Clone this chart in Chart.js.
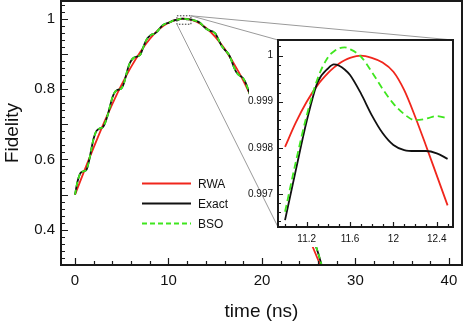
<!DOCTYPE html>
<html>
<head>
<meta charset="utf-8">
<script src="https://cdn.jsdelivr.net/npm/chart.js@4/dist/chart.umd.min.js"></script>
<style>
    html, body { margin: 0; padding: 0; background: #fff; }
    #wrap { position: relative; width: 463px; height: 326px; }
    #wrap canvas { position: absolute; left: 0; top: 0; }
</style>
</head>
<body>
<div id="wrap">
    <canvas id="mainChart" width="463" height="326"></canvas>
    <canvas id="insetChart" width="463" height="326"></canvas>
</div>
<script>
// main plot, RWA curve
const rwaTime = [0, 1, 2, 3, 4, 5, 6, 7, 8, 9, 10, 11, 11.6, 12, 13, 14, 15, 16, 17, 18, 19, 20, 21, 22, 23, 24, 25, 26, 27, 28];
const rwaFid = [0.500, 0.568, 0.634, 0.698, 0.758, 0.813, 0.863, 0.906, 0.942, 0.970, 0.988, 0.998, 1.000, 0.999, 0.991, 0.974, 0.948, 0.914, 0.872, 0.824, 0.769, 0.710, 0.647, 0.581, 0.513, 0.446, 0.379, 0.315, 0.254, 0.196];

// main plot, Exact and BSO share one time grid
const simTime = [0, 0.25, 0.5, 0.75, 1, 1.25, 1.5, 1.75, 2, 2.25, 2.5, 2.75, 3, 3.25, 3.5, 3.75, 4, 4.25, 4.5, 4.75,
    5, 5.25, 5.5, 5.75, 6, 6.25, 6.5, 6.75, 7, 7.25, 7.5, 7.75, 8, 8.25, 8.5, 8.75, 9, 9.25, 9.5, 9.75,
    10, 10.25, 10.5, 10.75, 11, 11.25, 11.5, 11.75, 12, 12.25, 12.5, 12.75, 13, 13.25, 13.5, 13.75, 14, 14.25, 14.5, 14.75,
    15, 15.25, 15.5, 15.75, 16, 16.25, 16.5, 16.75, 17, 17.25, 17.5, 17.75, 18, 18.25, 18.5, 18.75, 19,
    20, 21, 22, 23, 24, 25, 25.5, 26, 26.5, 27, 28];
const bsoFid = [0.500, 0.535, 0.557, 0.565, 0.567, 0.572, 0.596, 0.630, 0.660, 0.679, 0.686, 0.689, 0.692, 0.706, 0.726, 0.752, 0.776, 0.791, 0.797, 0.799,
    0.803, 0.818, 0.843, 0.866, 0.880, 0.888, 0.891, 0.893, 0.898, 0.915, 0.932, 0.944, 0.951, 0.955, 0.957, 0.962, 0.970, 0.978, 0.983, 0.986,
    0.988, 0.991, 0.994, 0.996, 0.997, 0.999, 1.000, 0.9995, 0.9988, 0.998, 0.997, 0.995, 0.993, 0.990, 0.985, 0.978, 0.972, 0.968, 0.965, 0.963,
    0.958, 0.946, 0.932, 0.920, 0.912, 0.905, 0.896, 0.880, 0.862, 0.848, 0.840, 0.836, 0.830, 0.818, 0.800, 0.782, 0.765,
    0.712, 0.650, 0.578, 0.515, 0.452, 0.398, 0.372, 0.335, 0.290, 0.262, 0.205];
const exactFid = [0.500, 0.535, 0.557, 0.565, 0.567, 0.572, 0.596, 0.630, 0.660, 0.679, 0.686, 0.689, 0.692, 0.706, 0.726, 0.752, 0.776, 0.791, 0.797, 0.799,
    0.803, 0.818, 0.843, 0.866, 0.880, 0.888, 0.891, 0.893, 0.898, 0.915, 0.932, 0.944, 0.951, 0.955, 0.957, 0.962, 0.970, 0.978, 0.983, 0.986,
    0.988, 0.991, 0.994, 0.996, 0.9964, 0.9990, 0.9998, 0.9990, 0.9981, 0.9979, 0.997, 0.995, 0.993, 0.990, 0.985, 0.978, 0.972, 0.968, 0.965, 0.963,
    0.958, 0.946, 0.932, 0.920, 0.912, 0.905, 0.896, 0.880, 0.862, 0.848, 0.840, 0.836, 0.830, 0.818, 0.800, 0.782, 0.765,
    0.712, 0.650, 0.578, 0.515, 0.452, 0.398, 0.372, 0.335, 0.290, 0.262, 0.205];

// inset (zoom around the maximum)
const insetTime = [11.0, 11.1, 11.2, 11.3, 11.4, 11.45, 11.5, 11.55, 11.6, 11.7, 11.8, 11.9, 12.0, 12.1, 12.2, 12.3, 12.4, 12.5];
const insetRwa = [0.99802, 0.99855, 0.99900, 0.99936, 0.99963, 0.99974, 0.99983, 0.99990, 0.99995, 1.00000, 0.99995, 0.99985, 0.99965, 0.99925, 0.99868, 0.99805, 0.99740, 0.99675];
const insetExact = [0.99643, 0.99752, 0.99858, 0.99942, 0.99973, 0.99981, 0.99978, 0.99970, 0.99958, 0.99918, 0.99871, 0.99832, 0.99806, 0.99795, 0.99793, 0.99793, 0.99788, 0.99776];
const insetBso = [0.99661, 0.99770, 0.99870, 0.99950, 0.99998, 1.00009, 1.00016, 1.00018, 1.00014, 0.99998, 0.99965, 0.99928, 0.99896, 0.99873, 0.99860, 0.99863, 0.99869, 0.99864];

// tick labels
const mainXTicks = [0, 10, 20, 30, 40];
const mainYTicks = [0.4, 0.6, 0.8, 1];
const insetXTicks = [11.2, 11.6, 12, 12.4];
const insetYTicks = [0.997, 0.998, 0.999, 1];

const seriesNames = ['RWA', 'Exact', 'BSO'];
const RED = '#f0261c';
const BLACK = '#111111';
const GREEN = '#3fe61e';
const FONT = "'Liberation Sans', Arial, Helvetica, sans-serif";

Chart.defaults.font.family = FONT;
Chart.defaults.color = '#111';

function toPoints(xs, ys) {
    return xs.map((x, i) => ({x: x, y: ys[i]}));
}

function fmt(v) {
    return String(parseFloat(Number(v).toFixed(4)));
}

// fixed box sizes, no extra room for half-labels at the ends
function fixX(h) {
    return s => { s.height = h; s.paddingLeft = 0; s.paddingRight = 0; };
}
function fixY(w) {
    return s => { s.width = w; s.paddingTop = 0; s.paddingBottom = 0; };
}

// inward tick marks (minor + major)
let mainXMarks = [];
for (let i = 0; i <= 20; i++) mainXMarks.push({v: i * 2, major: i % 5 === 0});
let mainYMarks = [];
for (let i = 15; i <= 52; i++) mainYMarks.push({v: i / 50, major: i % 5 === 0});
let insetXMarks = [];
for (let i = 110; i <= 125; i++) insetXMarks.push({v: i / 10, major: (i - 112) % 4 === 0});
let insetYMarks = [];
for (let i = 4982; i <= 5001; i++) insetYMarks.push({v: i / 5000, major: i % 5 === 0});

function framePlugin(xMarks, yMarks, majorLen, minorLen) {
    return {
        id: 'frameTicks',
        afterDatasetsDraw(chart) {
            const ctx = chart.ctx;
            const a = chart.chartArea;
            const xs = chart.scales.x, ys = chart.scales.y;
            ctx.save();
            ctx.strokeStyle = '#1a1a1a';
            ctx.lineWidth = 1.2;
            ctx.beginPath();
            xMarks.forEach(m => {
                const px = Math.round(xs.getPixelForValue(m.v)) + 0.5;
                ctx.moveTo(px, a.bottom);
                ctx.lineTo(px, a.bottom - (m.major ? majorLen : minorLen));
            });
            yMarks.forEach(m => {
                const py = Math.round(ys.getPixelForValue(m.v)) + 0.5;
                ctx.moveTo(a.left, py);
                ctx.lineTo(a.left + (m.major ? majorLen : minorLen), py);
            });
            ctx.stroke();
            ctx.lineWidth = 2;
            ctx.strokeRect(a.left, a.top, a.right - a.left, a.bottom - a.top);
            ctx.restore();
        }
    };
}

// dotted box marking the zoomed region
const zoomBox = {x0: 10.9, x1: 12.4, y0: 0.984, y1: 1.008};

const zoomBoxPlugin = {
    id: 'zoomBox',
    afterDatasetsDraw(chart) {
        const ctx = chart.ctx;
        const xs = chart.scales.x, ys = chart.scales.y;
        const l = xs.getPixelForValue(zoomBox.x0), r = xs.getPixelForValue(zoomBox.x1);
        const t = ys.getPixelForValue(zoomBox.y1), b = ys.getPixelForValue(zoomBox.y0);
        ctx.save();
        ctx.strokeStyle = '#333';
        ctx.lineWidth = 1;
        ctx.setLineDash([1.5, 1.5]);
        ctx.strokeRect(l, t, r - l, b - t);
        ctx.restore();
    }
};

const legendPlugin = {
    id: 'plotLegend',
    afterDraw(chart) {
        const ctx = chart.ctx;
        ctx.save();
        ctx.font = '12px ' + FONT;
        ctx.textBaseline = 'middle';
        chart.data.datasets.forEach((ds, i) => {
            const y = 183.5 + i * 20;
            ctx.strokeStyle = ds.borderColor;
            ctx.lineWidth = 1.8;
            ctx.setLineDash(ds.borderDash || []);
            ctx.beginPath();
            ctx.moveTo(142, y);
            ctx.lineTo(191, y);
            ctx.stroke();
            ctx.setLineDash([]);
            ctx.fillStyle = '#111';
            ctx.fillText(ds.label, 198, y + 1);
        });
        ctx.restore();
    }
};

let mainCtx = document.getElementById('mainChart').getContext('2d');
let mainChart = new Chart(mainCtx, {
    type: 'line',
    data: {
        datasets: [
            {label: seriesNames[0], data: toPoints(rwaTime, rwaFid), borderColor: RED, borderWidth: 1.8, order: 3},
            {label: seriesNames[1], data: toPoints(simTime, exactFid), borderColor: BLACK, borderWidth: 1.8, order: 2},
            {label: seriesNames[2], data: toPoints(simTime, bsoFid), borderColor: GREEN, borderWidth: 1.8, borderDash: [5, 3], order: 1}
        ]
    },
    options: {
        responsive: false,
        animation: false,
        devicePixelRatio: 1,
        parsing: false,
        elements: {
            point: {radius: 0},
            line: {cubicInterpolationMode: 'monotone', fill: false}
        },
        layout: {padding: {left: 0, top: 1, right: 1, bottom: 0}},
        plugins: {legend: {display: false}, tooltip: {enabled: false}},
        scales: {
            x: {
                type: 'linear',
                min: -1.5,
                max: 41.4,
                afterBuildTicks: s => { s.ticks = mainXTicks.map(v => ({value: v})); },
                afterFit: fixX(61),
                grid: {display: false, drawTicks: false},
                border: {display: false},
                ticks: {padding: 7, font: {size: 15}, callback: v => fmt(v), maxRotation: 0, autoSkip: false},
                title: {display: true, text: 'time (ns)', font: {size: 19}, padding: {top: 0, bottom: 3}}
            },
            y: {
                type: 'linear',
                min: 0.3,
                max: 1.05,
                afterBuildTicks: s => { s.ticks = mainYTicks.map(v => ({value: v})); },
                afterFit: fixY(61),
                grid: {display: false, drawTicks: false},
                border: {display: false},
                ticks: {padding: 6, font: {size: 15}, callback: v => fmt(v), autoSkip: false},
                title: {display: true, text: 'Fidelity', font: {size: 19}, padding: {top: 1, bottom: 0}}
            }
        }
    },
    plugins: [framePlugin(mainXMarks, mainYMarks, 7, 4), zoomBoxPlugin, legendPlugin]
});

// white panel behind the inset and the lines joining it to the zoom box
const insetBackPlugin = {
    id: 'insetBack',
    beforeDraw(chart) {
        const ctx = chart.ctx;
        const a = chart.chartArea;
        const xs = mainChart.scales.x, ys = mainChart.scales.y;
        const l = xs.getPixelForValue(zoomBox.x0), r = xs.getPixelForValue(zoomBox.x1);
        const t = ys.getPixelForValue(zoomBox.y1), b = ys.getPixelForValue(zoomBox.y0);
        ctx.save();
        ctx.fillStyle = '#fff';
        ctx.fillRect(249, 30, 212, 217);
        ctx.strokeStyle = '#9a9a9a';
        ctx.lineWidth = 1;
        ctx.beginPath();
        ctx.moveTo(r, t); ctx.lineTo(a.right, a.top);
        ctx.moveTo(r, t); ctx.lineTo(a.left, a.top);
        ctx.moveTo(l, b); ctx.lineTo(a.left, a.bottom);
        ctx.stroke();
        ctx.restore();
    }
};

let insetCtx = document.getElementById('insetChart').getContext('2d');
let insetChart = new Chart(insetCtx, {
    type: 'line',
    data: {
        datasets: [
            {label: seriesNames[0], data: toPoints(insetTime, insetRwa), borderColor: RED, borderWidth: 1.8, order: 3},
            {label: seriesNames[1], data: toPoints(insetTime, insetExact), borderColor: BLACK, borderWidth: 1.8, order: 2},
            {label: seriesNames[2], data: toPoints(insetTime, insetBso), borderColor: GREEN, borderWidth: 1.8, borderDash: [7, 4], order: 1}
        ]
    },
    options: {
        responsive: false,
        animation: false,
        devicePixelRatio: 1,
        parsing: false,
        elements: {
            point: {radius: 0},
            line: {cubicInterpolationMode: 'monotone', fill: false}
        },
        layout: {padding: {left: 238, top: 40, right: 10, bottom: 79}},
        plugins: {legend: {display: false}, tooltip: {enabled: false}},
        scales: {
            x: {
                type: 'linear',
                min: 10.935,
                max: 12.55,
                afterBuildTicks: s => { s.ticks = insetXTicks.map(v => ({value: v})); },
                afterFit: fixX(20),
                grid: {display: false, drawTicks: false},
                border: {display: false},
                ticks: {padding: 6, font: {size: 10}, callback: v => fmt(v), maxRotation: 0, autoSkip: false}
            },
            y: {
                type: 'linear',
                min: 0.99628,
                max: 1.00034,
                afterBuildTicks: s => { s.ticks = insetYTicks.map(v => ({value: v})); },
                afterFit: fixY(40),
                grid: {display: false, drawTicks: false},
                border: {display: false},
                ticks: {padding: 5, font: {size: 10}, callback: v => fmt(v), autoSkip: false}
            }
        }
    },
    plugins: [insetBackPlugin, framePlugin(insetXMarks, insetYMarks, 5, 3)]
});
</script>
</body>
</html>
